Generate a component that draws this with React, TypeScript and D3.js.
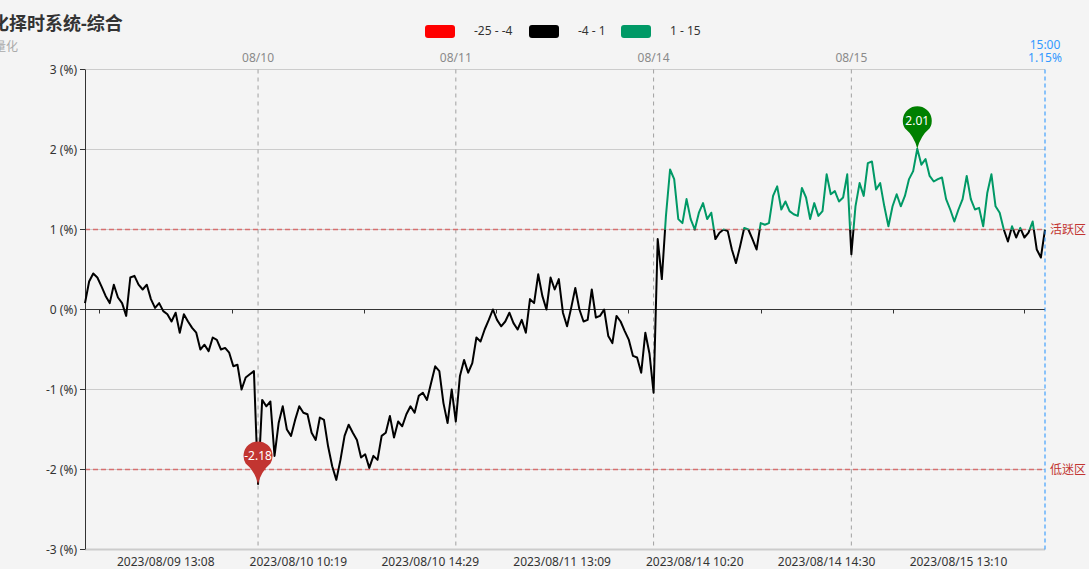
import React from 'react';
import * as d3 from 'd3';

// trading days shown on the chart (first day starts at 10:00)
const DAYS = ['2023/08/09', '2023/08/10', '2023/08/11', '2023/08/14', '2023/08/15'];
const FIRST_OPEN = '10:00';

// 5-minute samples, in %
const d0809 = [0.08, 0.35, 0.45, 0.4, 0.29, 0.17, 0.08, 0.31, 0.15, 0.08, -0.08, 0.4, 0.42, 0.31, 0.25, 0.31, 0.13, 0.02, 0.08, -0.02, -0.06, -0.15, -0.04, -0.29, -0.06, -0.15, -0.23, -0.29, -0.5, -0.44, -0.52, -0.35, -0.38, -0.5, -0.48, -0.54, -0.71, -0.69, -1.0, -0.85, -0.81, -0.77];
const d0810 = [-2.18, -1.13, -1.21, -1.15, -1.83, -1.42, -1.21, -1.5, -1.58, -1.38, -1.21, -1.29, -1.31, -1.54, -1.63, -1.35, -1.38, -1.71, -1.96, -2.13, -1.88, -1.58, -1.44, -1.54, -1.63, -1.85, -1.81, -1.98, -1.83, -1.88, -1.58, -1.54, -1.33, -1.6, -1.4, -1.46, -1.31, -1.21, -1.29, -1.08, -1.04, -1.13, -0.92, -0.71, -0.77, -1.17, -1.42, -1.0];
const d0811 = [-1.4, -0.83, -0.63, -0.79, -0.67, -0.35, -0.4, -0.25, -0.13, 0.0, -0.13, -0.21, -0.15, -0.04, -0.17, -0.25, -0.13, -0.29, 0.13, 0.08, 0.44, 0.17, 0.0, 0.4, 0.25, 0.38, -0.04, -0.21, 0.02, 0.27, 0.0, -0.15, -0.13, 0.25, -0.1, -0.08, 0.0, -0.33, -0.42, -0.08, -0.15, -0.27, -0.38, -0.58, -0.6, -0.79, -0.29, -0.55];
const d0814 = [-1.04, 0.88, 0.38, 1.17, 1.75, 1.63, 1.13, 1.08, 1.38, 1.13, 1.0, 1.21, 1.33, 1.13, 1.21, 0.88, 0.96, 1.0, 0.98, 0.75, 0.58, 0.79, 1.02, 1.0, 0.88, 0.75, 1.08, 1.06, 1.08, 1.42, 1.54, 1.25, 1.35, 1.23, 1.19, 1.17, 1.52, 1.4, 1.13, 1.33, 1.17, 1.23, 1.69, 1.44, 1.48, 1.35, 1.4, 1.69];
const d0815 = [0.69, 1.29, 1.58, 1.42, 1.83, 1.85, 1.5, 1.58, 1.29, 1.04, 1.29, 1.44, 1.29, 1.42, 1.63, 1.73, 2.01, 1.81, 1.88, 1.67, 1.6, 1.63, 1.65, 1.38, 1.25, 1.1, 1.25, 1.38, 1.67, 1.38, 1.25, 1.27, 1.04, 1.46, 1.69, 1.29, 1.21, 1.0, 0.85, 1.04, 0.9, 1.02, 0.9, 0.96, 1.1, 0.75, 0.65, 1.0];
const DAY_VALUES = [d0809, d0810, d0811, d0814, d0815];

const BOTTOM_LABELS = ['2023/08/09 13:08', '2023/08/10 10:19', '2023/08/10 14:29', '2023/08/11 13:09', '2023/08/14 10:20', '2023/08/14 14:30', '2023/08/15 13:10'];
const Y_TICKS = [3, 2, 1, 0, -1, -2, -3];
const MARK_LINES = [{ value: 1, label: '活跃区' }, { value: -2, label: '低迷区' }];
const PIECES = [
  { min: -25, max: -4, color: '#ff0000' },
  { min: -4, max: 1, color: '#000000' },
  { min: 1, max: 15, color: '#009966' },
];
const LAST_TIME = '15:00';
const LAST_VALUE = '1.15%';

const TITLE = '量化择时系统-综合';
const SUBTITLE = '量化';

const W = 1089;
const H = 569;
const M = { left: 85, right: 1045, top: 69.5, bottom: 549.5 };
const FONT = '"Noto Sans", "Noto Sans CJK SC", sans-serif';

const tradeMin = (t: string) => {
  const [h, m] = t.split(':').map(Number);
  const c = h * 60 + m;
  return c <= 690 ? c - 570 : c - 780 + 120;
};
const OFFSET = tradeMin(FIRST_OPEN);
const globalMin = (di: number, tm: number) => di * 240 + tm - OFFSET;

type Pt = { m: number; v: number };
const points: Pt[] = [];
DAY_VALUES.forEach((vals, di) => {
  vals.forEach((v, k) => points.push({ m: globalMin(di, (di === 0 ? OFFSET : 0) + 5 * k), v }));
});

function pinPath(x: number, tipY: number, r = 14.5, d = 28) {
  const cy = tipY - d;
  const a = Math.acos(r / d);
  const lx = x - r * Math.sin(a);
  const rx = x + r * Math.sin(a);
  const ty = cy + r * Math.cos(a);
  return `M${x},${tipY} Q${x - 3},${ty + 8} ${lx},${ty} A${r},${r} 0 1 1 ${rx},${ty} Q${x + 3},${ty + 8} ${x},${tipY} Z`;
}

export default function App() {
  const x = d3.scaleLinear().domain([0, d3.max(points, p => p.m) as number]).range([M.left, M.right]);
  const y = d3.scaleLinear().domain([-3, 3]).range([M.bottom, M.top]);

  const line = d3.line<Pt>().x(p => x(p.m)).y(p => y(p.v));
  const pathD = line(points) || '';

  const labelMins = BOTTOM_LABELS.map(s => {
    const [date, time] = s.split(' ');
    return globalMin(DAYS.indexOf(date), tradeMin(time));
  });
  const tickMins: number[] = [labelMins[0] - (labelMins[1] - labelMins[0]) / 2];
  for (let i = 0; i < labelMins.length - 1; i++) tickMins.push((labelMins[i] + labelMins[i + 1]) / 2);
  const n = labelMins.length;
  tickMins.push(labelMins[n - 1] + (labelMins[n - 1] - labelMins[n - 2]) / 2);

  const maxPt = points.reduce((a, b) => (b.v > a.v ? b : a));
  const minPt = points.reduce((a, b) => (b.v < a.v ? b : a));
  const legendX = [425, 529, 621];

  return (
    <svg width={W} height={H} style={{ position: 'absolute', left: 0, top: 0, fontFamily: FONT }}>
      <rect width={W} height={H} fill="#f4f4f4" />
      <defs>
        {PIECES.map((p, i) => (
          <clipPath id={`piece${i}`} key={i}>
            <rect x={0} width={W} y={y(p.max)} height={y(p.min) - y(p.max)} />
          </clipPath>
        ))}
      </defs>

      {/* grid */}
      {Y_TICKS.filter(t => t !== 0).map(t => (
        <line key={t} x1={M.left} x2={M.right} y1={y(t)} y2={y(t)} stroke="#cccccc" strokeWidth={t === -3 ? 2 : 1} />
      ))}

      {/* day separators + top labels */}
      {DAYS.slice(1).map((d, i) => {
        const xx = x(globalMin(i + 1, 0));
        return (
          <g key={d}>
            <line x1={xx} x2={xx} y1={M.top} y2={M.bottom} stroke="#a0a0a0" strokeDasharray="4,4" />
            <text x={xx} y={62} textAnchor="middle" fontSize={12} fill="#8a8a8a">{d.slice(5)}</text>
          </g>
        );
      })}

      {/* mark lines */}
      {MARK_LINES.map(ml => (
        <g key={ml.label}>
          <line x1={M.left} x2={M.right} y1={y(ml.value)} y2={y(ml.value)} stroke="#d67070" strokeWidth={1.3} strokeDasharray="5,3" />
          <text x={M.right + 5} y={y(ml.value) + 4} fontSize={12} fill="#c23531">{ml.label}</text>
        </g>
      ))}

      {/* zero axis */}
      <line x1={M.left} x2={M.right} y1={y(0)} y2={y(0)} stroke="#333" />
      {tickMins.map((m, i) => (
        <line key={i} x1={Math.round(x(m)) + 0.5} x2={Math.round(x(m)) + 0.5} y1={y(0)} y2={y(0) + 4} stroke="#333" />
      ))}

      {/* y axis */}
      <line x1={M.left + 0.5} x2={M.left + 0.5} y1={M.top} y2={M.bottom} stroke="#333" />
      {Y_TICKS.map(t => (
        <g key={t}>
          <line x1={M.left - 5} x2={M.left} y1={y(t)} y2={y(t)} stroke="#333" />
          <text x={M.left - 8} y={y(t) + 4} textAnchor="end" fontSize={12} fill="#333">{`${t} (%)`}</text>
        </g>
      ))}

      {/* bottom labels */}
      {BOTTOM_LABELS.map((s, i) => (
        <text key={s} x={x(labelMins[i])} y={566} textAnchor="middle" fontSize={12} fill="#333">{s}</text>
      ))}

      {/* series, coloured by piece */}
      {PIECES.map((p, i) => (
        <path key={i} d={pathD} fill="none" stroke={p.color} strokeWidth={2} strokeLinejoin="round" clipPath={`url(#piece${i})`} />
      ))}

      {/* last value line */}
      <line x1={M.right} x2={M.right} y1={M.top} y2={M.bottom} stroke="#1e90ff" strokeDasharray="4,3" />
      <text x={M.right} y={48.5} textAnchor="middle" fontSize={12} fill="#3399ff">{LAST_TIME}</text>
      <text x={M.right} y={62} textAnchor="middle" fontSize={12} fill="#3399ff">{LAST_VALUE}</text>

      {/* pins */}
      <path d={pinPath(x(maxPt.m), y(maxPt.v))} fill="#008000" />
      <text x={x(maxPt.m)} y={y(maxPt.v) - 24} textAnchor="middle" fontSize={12} fill="#fff">{maxPt.v.toFixed(2)}</text>
      <path d={pinPath(x(minPt.m), y(minPt.v))} fill="#c23531" />
      <text x={x(minPt.m)} y={y(minPt.v) - 24} textAnchor="middle" fontSize={12} fill="#fff">{minPt.v.toFixed(2)}</text>

      {/* legend */}
      {PIECES.map((p, i) => (
        <g key={i}>
          <rect x={legendX[i]} y={25} width={30} height={13} rx={3} fill={p.color} />
          <text x={legendX[i] + 49} y={35} fontSize={12} fill="#333" style={{ whiteSpace: 'pre' }}>{`${p.min} - ${p.max}`}</text>
        </g>
      ))}

      {/* title */}
      <text x={-27} y={30} fontSize={18} fontWeight="bold" fill="#333">{TITLE}</text>
      <text x={-6} y={51} fontSize={12} fill="#aaa">{SUBTITLE}</text>
    </svg>
  );
}
